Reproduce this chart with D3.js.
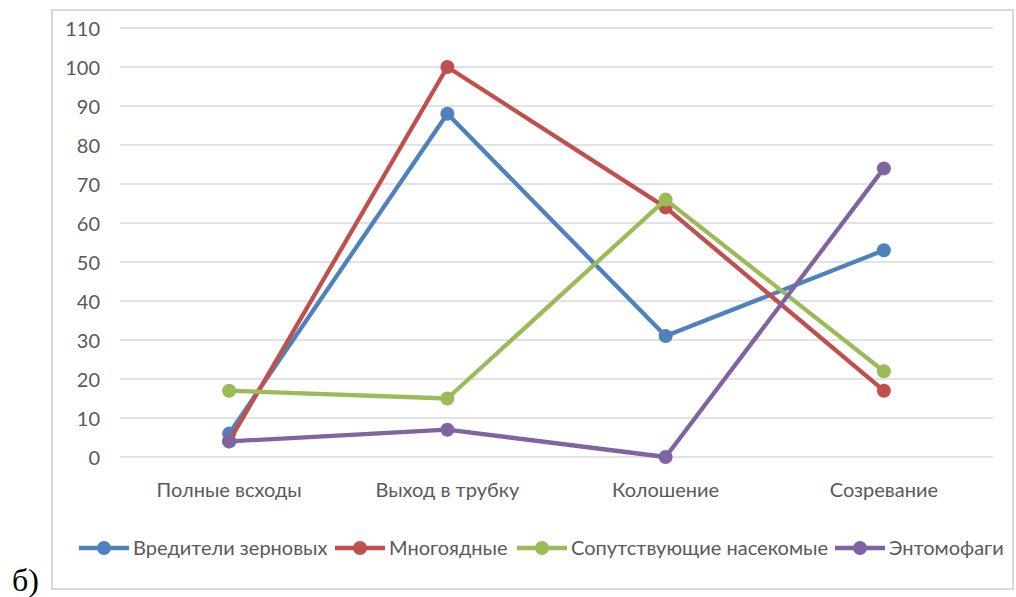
<!DOCTYPE html>
<html><head><meta charset="utf-8">
<script src="https://cdn.jsdelivr.net/npm/d3@7/dist/d3.min.js"></script>
<style>
html,body{margin:0;padding:0;background:#fff;}
svg text{font-family:Lato,"Noto Sans",sans-serif;fill:#595959;}
</style></head>
<body>
<svg id="c" width="1016" height="597"></svg>
<script>
const categories = ["Полные всходы","Выход в трубку","Колошение","Созревание"];
const seriesNames = ["Вредители зерновых","Многоядные","Сопутствующие насекомые","Энтомофаги"];
const seriesColors = ["#4F81BD","#C0504D","#9BBB59","#8064A2"];
const vred = [6, 88, 31, 53];
const mnogo = [4, 100, 64, 17];
const soput = [17, 15, 66, 22];
const entomo = [4, 7, 0, 74];
const tickValues = [0,10,20,30,40,50,60,70,80,90,100,110];

(function(){
const seriesValues = [vred, mnogo, soput, entomo];
const svg = d3.select("#c");

svg.append("rect").attr("x",52).attr("y",10).attr("width",961).attr("height",579)
  .attr("fill","none").attr("stroke","#d9d9d9").attr("stroke-width",2);

const pL=120, pR=993, pT=28, pB=457;
const x = d3.scaleBand().domain(categories).range([pL,pR]).padding(0);
const y = d3.scaleLinear().domain([0,110]).range([pB,pT]);

svg.append("g").selectAll("line").data(tickValues).join("line")
  .attr("x1",pL).attr("x2",pR)
  .attr("y1",d=>y(d)).attr("y2",d=>y(d))
  .attr("stroke","#d9d9d9").attr("stroke-width",1.3);

const yAxis = d3.axisLeft(y).tickValues(tickValues).tickSize(0).tickPadding(0);
const gy = svg.append("g").attr("transform",`translate(100,0)`).call(yAxis);
gy.select(".domain").remove();
gy.selectAll("text").style("font-size","20px").style("font-family","Lato,'Noto Sans',sans-serif").attr("fill","#595959").attr("dy","0.35em");

const xAxis = d3.axisBottom(x).tickSize(0).tickPadding(0);
const gx = svg.append("g").attr("transform",`translate(0,490)`).call(xAxis);
gx.select(".domain").remove();
gx.selectAll("text").style("font-size","20px").style("font-family","Lato,'Noto Sans',sans-serif").attr("fill","#595959").attr("dy","0.35em");

const cx = c => x(c) + x.bandwidth()/2;
const line = d3.line().x((d,i)=>cx(categories[i])).y(d=>y(d));

seriesValues.forEach((vals,si)=>{
  const g = svg.append("g");
  g.append("path").attr("d",line(vals)).attr("fill","none")
    .attr("stroke",seriesColors[si]).attr("stroke-width",4.3).attr("stroke-linejoin","round");
  g.selectAll("circle").data(vals).join("circle")
    .attr("cx",(d,i)=>cx(categories[i])).attr("cy",d=>y(d)).attr("r",7)
    .attr("fill",seriesColors[si]);
});

const legX = [79, 335, 517, 835];
const legY = 548;
seriesNames.forEach((n,i)=>{
  const g = svg.append("g").attr("transform",`translate(${legX[i]},${legY})`);
  g.append("line").attr("x1",0).attr("x2",50).attr("stroke",seriesColors[i]).attr("stroke-width",4.3);
  g.append("circle").attr("cx",25).attr("r",7).attr("fill",seriesColors[i]);
  g.append("text").attr("x",54).attr("dy","0.35em").style("font-size","20px").text(n);
});

svg.append("text").attr("x",12).attr("y",591)
  .style("font-family","'Liberation Serif','Times New Roman',serif").style("font-size","32px")
  .style("fill","#000").text("б)");
})();
</script>
</body></html>
